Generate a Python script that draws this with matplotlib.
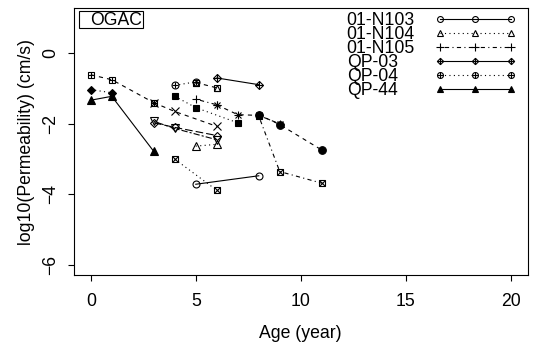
import matplotlib
matplotlib.use("Agg")
import matplotlib.pyplot as plt
from matplotlib.lines import Line2D
from matplotlib.patches import Rectangle

plt.rcParams['font.family'] = ['Liberation Sans', 'DejaVu Sans']
plt.rcParams['lines.scale_dashes'] = False

# ages (year) and log10 permeability (cm/s)
ages_n103 = [5, 8]
perm_n103 = [-3.71, -3.47]
ages_n104 = [5, 6]
perm_n104 = [-2.63, -2.58]
ages_n105 = [5, 6]
perm_n105 = [-1.30, -1.46]
ages_qp03 = [6, 8]
perm_qp03 = [-0.70, -0.89]
ages_qp04 = [4, 5]
perm_qp04 = [-0.91, -0.81]
ages_qp44 = [0, 1, 3]
perm_qp44 = [-1.33, -1.22, -2.78]

# other cores (not in legend)
ages_cross = [3, 4, 6]
perm_cross = [-1.40, -1.65, -2.07]
ages_diam = [3, 4, 6]
perm_diam = [-1.97, -2.10, -2.33]
ages_tdown = [3, 4, 6]
perm_tdown = [-1.93, -2.13, -2.45]
ages_boxx1 = [4, 6]
perm_boxx1 = [-3.00, -3.88]
ages_boxx2 = [8, 9, 11]
perm_boxx2 = [-1.78, -3.35, -3.68]
ages_star = [6, 7, 8, 9]
perm_star = [-1.46, -1.74, -1.76, -2.00]
ages_sqplus = [0, 1, 3]
perm_sqplus = [-0.61, -0.75, -1.40]
ages_sqtri = [5, 6]
perm_sqtri = [-0.83, -0.98]
ages_fsq = [4, 5, 7]
perm_fsq = [-1.22, -1.54, -1.97]
ages_fcirc = [8, 9, 11]
perm_fcirc = [-1.74, -2.02, -2.74]
ages_fdiam = [0, 1]
perm_fdiam = [-1.03, -1.12]

xticks = [0, 5, 10, 15, 20]
yticks = [-6, -4, -2, 0]

LS = {
    'solid': '-',
    'dashed': (0, (3, 3)),
    'dotted': (0, (0.8, 2.4)),
    'dotdash': (0, (0.8, 2.4, 3, 2.4)),
    'longdash': (0, (5.5, 2.2)),
    'twodash': (0, (1.5, 1.5, 4.5, 1.5)),
}

# R-like plotting symbols built from matplotlib markers: (marker, face, size)
SYM = {
    'circle': [('o', 'none', 5.0)],
    'tri': [('^', 'none', 5.8)],
    'plus': [('+', 'none', 6.0)],
    'x': [('x', 'none', 5.5)],
    'diamond': [('D', 'none', 4.0)],
    'tri_down': [('v', 'none', 5.8)],
    'boxx': [('s', 'none', 5.0), ('x', 'none', 5.0)],
    'asterisk': [('+', 'none', 6.0), ('x', 'none', 5.0)],
    'diamond_plus': [('D', 'none', 3.8), ('+', 'none', 5.4)],
    'circle_plus': [('o', 'none', 5.0), ('+', 'none', 5.0)],
    'square_plus': [('s', 'none', 5.0), ('+', 'none', 5.0)],
    'square_tri': [('s', 'none', 5.0), ('^', 'none', 4.0)],
    'filled_square': [('s', 'k', 5.0)],
    'filled_circle': [('o', 'k', 5.5)],
    'filled_tri': [('^', 'k', 5.6)],
    'filled_diamond': [('D', 'k', 4.0)],
}

series = [
    ('01-N103', ages_n103, perm_n103, 'circle', 'solid'),
    ('01-N104', ages_n104, perm_n104, 'tri', 'dotted'),
    ('01-N105', ages_n105, perm_n105, 'plus', 'dotdash'),
    ('QP-03', ages_qp03, perm_qp03, 'diamond_plus', 'solid'),
    ('QP-04', ages_qp04, perm_qp04, 'circle_plus', 'dotted'),
    ('QP-44', ages_qp44, perm_qp44, 'filled_tri', 'solid'),
    (None, ages_cross, perm_cross, 'x', 'dashed'),
    (None, ages_diam, perm_diam, 'diamond', 'longdash'),
    (None, ages_tdown, perm_tdown, 'tri_down', 'twodash'),
    (None, ages_boxx1, perm_boxx1, 'boxx', 'dotted'),
    (None, ages_boxx2, perm_boxx2, 'boxx', 'dotdash'),
    (None, ages_star, perm_star, 'asterisk', 'dashed'),
    (None, ages_sqplus, perm_sqplus, 'square_plus', 'dashed'),
    (None, ages_sqtri, perm_sqtri, 'square_tri', 'dashed'),
    (None, ages_fsq, perm_fsq, 'filled_square', 'dotted'),
    (None, ages_fcirc, perm_fcirc, 'filled_circle', 'dashed'),
    (None, ages_fdiam, perm_fdiam, 'filled_diamond', 'dotted'),
]

LW = 0.8
FS = 12.7

fig = plt.figure(figsize=(5.38, 3.58), dpi=100)
ax = fig.add_axes([0.1375, 0.2318, 0.843, 0.7458])

handles, labels = [], []
for label, xs, ys, sym, ls in series:
    ax.plot(xs, ys, color='k', lw=LW, linestyle=LS[ls])
    parts = [Line2D([], [], color='k', lw=LW, linestyle=LS[ls])]
    for m, face, ms in SYM[sym]:
        ax.plot(xs, ys, linestyle='none', marker=m, ms=ms, mfc=face,
                mec='k', mew=0.8)
        parts.append(Line2D([], [], linestyle='none', marker=m,
                            ms=ms * 0.85, mfc=face, mec='k', mew=0.8))
    if label:
        handles.append(tuple(parts))
        labels.append(label)

ax.set_xlim(-0.8, 20.8)
ax.set_ylim(-6.28, 1.28)
ax.set_xticks(xticks)
ax.set_yticks(yticks)
ax.tick_params(direction='out', length=4.3, width=0.8, labelsize=FS)
ax.tick_params(axis='x', pad=8.5)
ax.tick_params(axis='y', pad=6.5)
for lab in ax.get_yticklabels():
    lab.set_rotation(90)
    lab.set_va('center')
for s in ax.spines.values():
    s.set_linewidth(0.8)

ax.set_xlabel('Age (year)', fontsize=FS)
ax.set_ylabel('log10(Permeability) (cm/s)', fontsize=FS)
ax.xaxis.set_label_coords(0.5, -0.189)
ax.yaxis.set_label_coords(-0.086, 0.5)

# legend: symbol samples on the right, left-aligned names to their left
leg_kw = dict(frameon=False, fontsize=FS, labelspacing=-0.17,
              borderpad=0, borderaxespad=0)
leg_sym = ax.legend(handles, [' '] * len(handles), loc='upper right',
                    bbox_to_anchor=(0.9753, 0.985), numpoints=3,
                    markerfirst=False, handlelength=4.64, handletextpad=0,
                    **leg_kw)
ax.add_artist(leg_sym)
blank = [Line2D([], [], linestyle='none') for _ in labels]
ax.legend(blank, labels, loc='upper left', bbox_to_anchor=(0.6012, 0.985),
          handlelength=0, handletextpad=0, **leg_kw)

# boxed site label in the upper left corner
ax.add_patch(Rectangle((0.0117, 0.924), 0.1398, 0.063, transform=ax.transAxes,
                       fill=False, lw=0.8, ec='k'))
ax.text(0.0926, 0.955, 'OGAC', transform=ax.transAxes, fontsize=FS,
        ha='center', va='center')

fig.savefig('out.png', dpi=100)
